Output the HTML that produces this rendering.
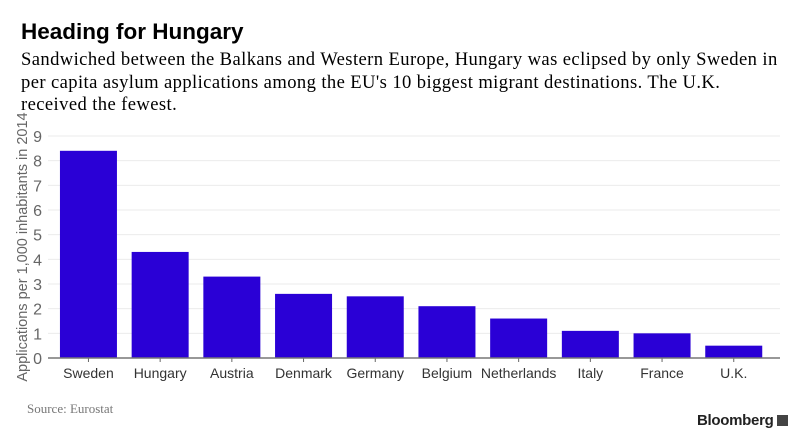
<!DOCTYPE html>
<html><head><meta charset="utf-8"><style>
body{margin:0;width:805px;height:447px;background:#fff;overflow:hidden;font-family:"Liberation Sans",sans-serif;}
.t{position:absolute;left:21px;top:19px;font-size:22.5px;font-weight:bold;color:#000;}
.s{position:absolute;left:21px;top:49px;white-space:nowrap;font-family:"Liberation Serif",serif;font-size:18.6px;letter-spacing:0.4px;line-height:22.5px;color:#000;}
.src{position:absolute;left:27px;top:401px;font-family:"Liberation Serif",serif;font-size:13px;color:#777;}
.bb{position:absolute;left:697px;top:412px;font-size:15px;font-weight:bold;color:#222;letter-spacing:-0.3px}
</style></head><body>
<div class="t">Heading for Hungary</div>
<div class="s">Sandwiched between the Balkans and Western Europe, Hungary was eclipsed by only Sweden in<br>per capita asylum applications among the EU's 10 biggest migrant destinations. The U.K.<br>received the fewest.</div>
<svg id="c" width="805" height="447" style="position:absolute;left:0;top:0"></svg>
<div class="src">Source: Eurostat</div>
<div class="bb">Bloomberg <span style="display:inline-block;width:11px;height:11px;background:#444;vertical-align:-1px"></span></div>
<script>
const categories=["Sweden","Hungary","Austria","Denmark","Germany","Belgium","Netherlands","Italy","France","U.K."];
const values=[8.4,4.3,3.3,2.6,2.5,2.1,1.6,1.1,1.0,0.5];
const yTicks=[0,1,2,3,4,5,6,7,8,9];
const NS="http://www.w3.org/2000/svg";
const svg=document.getElementById('c');
const y0=358,y9=136,xL=48,xR=780,bandStart=52.6,step=71.7,bw=57;
function y(v){return y0-(y0-y9)*v/9;}
function x(i){return bandStart+i*step+(step-bw)/2;}
function mk(t,a){const e=document.createElementNS(NS,t);for(const k in a)e.setAttribute(k,a[k]);svg.appendChild(e);return e;}
yTicks.forEach(v=>{
 if(v>0){const g=mk('line',{x1:xL,x2:xR,y1:y(v),y2:y(v),stroke:'#ebebeb','stroke-width':1});
 
 }
 const t=mk('text',{x:42,y:y(v)+6,'text-anchor':'end','font-size':16,fill:'#666','font-family':'Liberation Sans, sans-serif'});
 t.textContent=v;
 
 
});
values.forEach((v,i)=>{
 const r=mk('rect',{x:x(i),y:y(v),width:bw,height:y0-y(v),fill:'#2a00d6'});
 
 
 const tk=mk('line',{x1:x(i)+bw/2,x2:x(i)+bw/2,y1:y0,y2:y0+4,stroke:'#666'});
 
 
 const t=mk('text',{x:x(i)+bw/2,y:378,'text-anchor':'middle','font-size':14,fill:'#333','font-family':'Liberation Sans, sans-serif'});
 t.textContent=categories[i];
 
 
});
const b=mk('line',{x1:xL,x2:xR,y1:y0,y2:y0,stroke:'#777','stroke-width':1.5});


const yt=mk('text',{transform:'translate(27,247) rotate(-90)','text-anchor':'middle','font-size':14.5,fill:'#666','font-family':'Liberation Sans, sans-serif'});
yt.textContent='Applications per 1,000 inhabitants in 2014';


</script>
</body></html>
